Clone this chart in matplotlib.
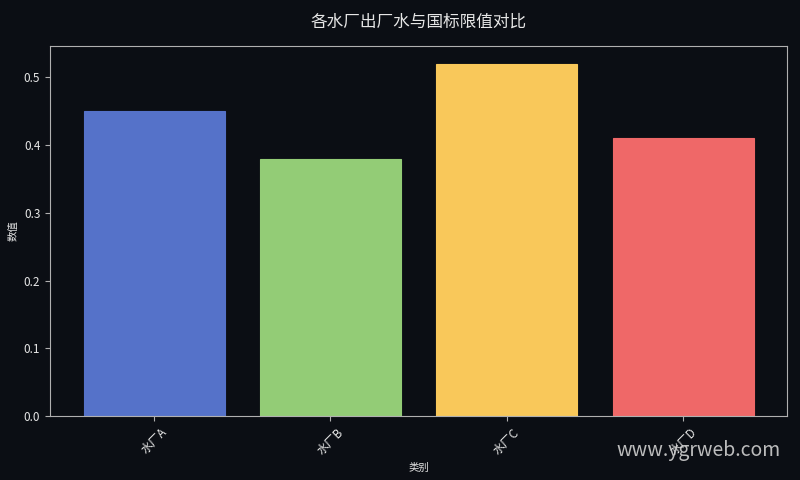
import matplotlib
matplotlib.use("Agg")
import matplotlib.pyplot as plt

# ── Data ──────────────────────────────────────────────────────────────────────
categories = ["水厂A", "水厂B", "水厂C", "水厂D"]
values     = [0.45, 0.38, 0.52, 0.41]
colors     = ["#5572c9", "#93cc76", "#f9c85a", "#ef6868"]

BG       = "#0b0e14"
FG       = "#e6e6e6"
SPINE    = "#b0b0b0"

plt.rcParams["font.family"] = ["Noto Sans CJK SC", "DejaVu Sans"]

fig, ax = plt.subplots(figsize=(8, 4.8), dpi=100)
fig.patch.set_facecolor(BG)
ax.set_facecolor(BG)

ax.bar(categories, values, width=0.8, color=colors,
       edgecolor=colors, linewidth=0.8)

ax.set_title("各水厂出厂水与国标限值对比", color=FG, fontsize=12, pad=14)
ax.set_xlabel("类别", color=FG, fontsize=7.5)
ax.set_ylabel("数值", color=FG, fontsize=7.5)

ax.tick_params(axis="both", colors=SPINE, labelcolor=FG, labelsize=8.5)
plt.setp(ax.get_xticklabels(), rotation=45)
for s in ax.spines.values():
    s.set_color(SPINE)

fig.subplots_adjust(left=0.0625, right=0.984, top=0.904, bottom=0.133)

fig.text(0.976, 0.04, "www.ygrweb.com", color="#d0d0d0", fontsize=14,
         ha="right", va="bottom", alpha=0.9)

fig.savefig("out.png", dpi=100, facecolor=BG)
